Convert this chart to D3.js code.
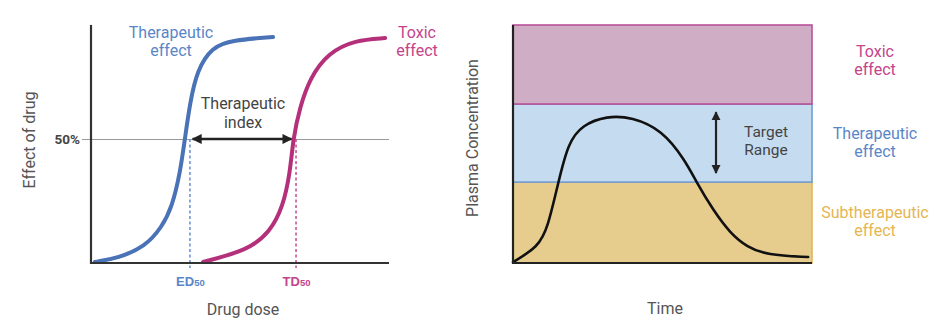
<!DOCTYPE html>
<html>
<head>
<meta charset="utf-8">
<script src="https://cdn.jsdelivr.net/npm/d3@7"></script>
<style>
  body { margin: 0; background: #fff; }
  svg { display: block; font-family: Roboto, "Noto Sans", sans-serif; }
</style>
</head>
<body>
<div class="chart"></div>
<script>
// Data - left panel (dose-response), dose and effect in %
const therapeuticDose   = [1.3, 9.1, 18.1, 23.8, 27.2, 29.9, 31.5, 33.2, 35.6, 40.6, 47.3, 61.1];
const therapeuticEffect = [0.4, 2.0, 6.5, 14.5, 22.6, 36.3, 50, 64.5, 77.8, 87.1, 89.9, 91.1];
const toxicDose   = [37.6, 52.7, 60.1, 64.4, 66.8, 67.8, 70.1, 73.5, 79.5, 88.6, 98.7];
const toxicEffect = [0.4, 5.2, 12.5, 22.6, 36.3, 50, 62.9, 74.6, 84.7, 89.9, 90.7];
const effectTicks = [50];
const doseTicks = [{ label: "ED", value: 33.2 }, { label: "TD", value: 68.8 }];

// Data - right panel (plasma concentration over time)
const timeValues = [0, 8.4, 11.7, 15.1, 18.4, 23.1, 31.4, 39.8, 49.8, 57.5, 61.5, 66.9, 72.6, 78.3, 84.9, 98.7];
const concValues = [0.4, 6.7, 15.1, 33.6, 50.4, 58.0, 61.8, 61.3, 55.9, 43.3, 33.6, 22.3, 12.6, 6.7, 3.4, 2.5];
const bandNames = ["Subtherapeutic", "Therapeutic", "Toxic"];
const bandLow  = [0, 34, 66.8];
const bandHigh = [34, 66.8, 100];
const targetRange = [37.8, 63.4];

const blue = "#4a72b6", blueText = "#5a86c8";
const pink = "#b5307a", pinkText = "#c4448c";
const grayText = "#555";

const svg = d3.select(".chart").append("svg")
    .attr("width", 940)
    .attr("height", 329);

const defs = svg.append("defs");
defs.append("marker")
    .attr("id", "arrow")
    .attr("viewBox", "0 0 10 10")
    .attr("refX", 9).attr("refY", 5)
    .attr("markerWidth", 4.2).attr("markerHeight", 4.2)
    .attr("markerUnits", "strokeWidth")
    .attr("orient", "auto-start-reverse")
    .append("path")
    .attr("d", "M0,0 L10,5 L0,10 Z")
    .attr("fill", "#222");

// ---------- Left panel ----------
const x1 = d3.scaleLinear().domain([0, 100]).range([91, 389]);
const y1 = d3.scaleLinear().domain([0, 100]).range([263, 15]);
const left = svg.append("g");

// 50% axis with gridline
left.append("g")
    .attr("transform", `translate(${x1(0)},0)`)
    .call(d3.axisLeft(y1).tickValues(effectTicks).tickSizeOuter(0).tickSize(9).tickFormat(d => d + "%"))
    .call(g => g.select(".domain").remove())
    .call(g => g.selectAll(".tick line").attr("x1", x1(100) - x1(0)).attr("stroke", "#999").attr("stroke-width", 1))
    .call(g => g.selectAll(".tick text").attr("x", -11).attr("font-size", 13.5).attr("font-weight", "bold")
        .attr("fill", "#444").attr("font-family", "Roboto, sans-serif"));

// dashed ED50 / TD50 lines
doseTicks.forEach((t, i) => {
    left.append("line")
        .attr("x1", x1(t.value)).attr("x2", x1(t.value))
        .attr("y1", y1(50)).attr("y2", y1(0) + 5)
        .attr("stroke", i ? "#c8559a" : "#6e96d2")
        .attr("stroke-width", 1.6)
        .attr("stroke-dasharray", "3,2.5");
});

// x tick labels
const xAxis = left.append("g")
    .attr("transform", `translate(0,${y1(0)})`)
    .call(d3.axisBottom(x1).tickValues(doseTicks.map(d => d.value)).tickSize(0).tickFormat(""))
    .call(g => g.select(".domain").remove());
xAxis.selectAll(".tick text").remove();
xAxis.selectAll(".tick").append("text")
    .attr("y", 23)
    .attr("text-anchor", "middle")
    .attr("font-weight", "bold")
    .attr("font-size", 13)
    .attr("fill", (d, i) => i ? pinkText : blueText)
    .each(function(d, i) {
        const t = d3.select(this);
        t.append("tspan").text(doseTicks[i].label);
        t.append("tspan").attr("font-size", 9.5).text("50");
    });

// curves
const lineL = d3.line().x(d => x1(d[0])).y(d => y1(d[1])).curve(d3.curveBasis);
left.append("path")
    .attr("d", lineL(d3.zip(therapeuticDose, therapeuticEffect)))
    .attr("fill", "none").attr("stroke", blue).attr("stroke-width", 4).attr("stroke-linecap", "round");
left.append("path")
    .attr("d", lineL(d3.zip(toxicDose, toxicEffect)))
    .attr("fill", "none").attr("stroke", pink).attr("stroke-width", 4).attr("stroke-linecap", "round");

// axes lines
left.append("line")
    .attr("x1", x1(0)).attr("x2", x1(0)).attr("y1", y1(96)).attr("y2", y1(0) + 1)
    .attr("stroke", "#333").attr("stroke-width", 2.2);
left.append("line")
    .attr("x1", x1(0)).attr("x2", x1(100)).attr("y1", y1(0)).attr("y2", y1(0))
    .attr("stroke", "#333").attr("stroke-width", 2.2);

// therapeutic index arrow
left.append("line")
    .attr("x1", x1(34.1)).attr("x2", x1(67.3))
    .attr("y1", y1(50)).attr("y2", y1(50))
    .attr("stroke", "#222").attr("stroke-width", 2.4)
    .attr("marker-start", "url(#arrow)").attr("marker-end", "url(#arrow)");

function label(g, x, ys, lines, color, size) {
    const t = g.append("text").attr("text-anchor", "middle").attr("fill", color).attr("font-size", size);
    lines.forEach((s, i) => t.append("tspan").attr("x", x).attr("y", ys[i]).text(s));
    return t;
}
label(left, 171, [38, 56], ["Therapeutic", "effect"], blueText, 16);
label(left, 417, [38, 56], ["Toxic", "effect"], pinkText, 16);
label(left, 243, [109, 128], ["Therapeutic", "index"], "#444", 16);
label(left, 243, [315], ["Drug dose"], grayText, 16);
left.append("text")
    .attr("transform", "translate(35,140) rotate(-90)")
    .attr("text-anchor", "middle").attr("fill", grayText).attr("font-size", 16)
    .text("Effect of drug");

// ---------- Right panel ----------
const x2 = d3.scaleLinear().domain([0, 100]).range([513, 812]);
const y2 = d3.scaleLinear().domain([0, 100]).range([263, 25]);
const right = svg.append("g");

const bandFill = ["#e6cd8e", "#c5dcf0", "#cfaec5"];
const bandStroke = ["#e2b65a", "#6f9bd3", "#b9509a"];
right.selectAll(".band")
    .data(bandNames)
    .enter()
    .append("rect")
    .attr("class", "band")
    .attr("x", x2(0))
    .attr("width", x2(100) - x2(0))
    .attr("y", (d, i) => y2(bandHigh[i]))
    .attr("height", (d, i) => y2(bandLow[i]) - y2(bandHigh[i]))
    .attr("fill", (d, i) => bandFill[i])
    .attr("stroke", (d, i) => bandStroke[i])
    .attr("stroke-width", 1.6);

const lineR = d3.line().x(d => x2(d[0])).y(d => y2(d[1])).curve(d3.curveBasis);
right.append("path")
    .attr("d", lineR(d3.zip(timeValues, concValues)))
    .attr("fill", "none").attr("stroke", "#111").attr("stroke-width", 2.6).attr("stroke-linecap", "round");

right.append("line")
    .attr("x1", x2(0)).attr("x2", x2(0)).attr("y1", y2(100)).attr("y2", y2(0) + 1)
    .attr("stroke", "#222").attr("stroke-width", 2.2);
right.append("line")
    .attr("x1", x2(0)).attr("x2", x2(100)).attr("y1", y2(0)).attr("y2", y2(0))
    .attr("stroke", "#222").attr("stroke-width", 2.2);

// target range arrow
right.append("line")
    .attr("x1", x2(67.9)).attr("x2", x2(67.9))
    .attr("y1", y2(targetRange[1])).attr("y2", y2(targetRange[0]))
    .attr("stroke", "#222").attr("stroke-width", 2.2)
    .attr("marker-start", "url(#arrow)").attr("marker-end", "url(#arrow)");

label(right, 766, [137, 155], ["Target", "Range"], "#444", 15.5);
label(right, 875, [57, 75], ["Toxic", "effect"], pinkText, 16);
label(right, 875, [139, 157], ["Therapeutic", "effect"], blueText, 16);
label(right, 875, [218, 236], ["Subtherapeutic", "effect"], "#e6b552", 16);
label(right, 665, [314], ["Time"], grayText, 16);
right.append("text")
    .attr("transform", "translate(478,138) rotate(-90)")
    .attr("text-anchor", "middle").attr("fill", grayText).attr("font-size", 16)
    .text("Plasma Concentration");
</script>
</body>
</html>
